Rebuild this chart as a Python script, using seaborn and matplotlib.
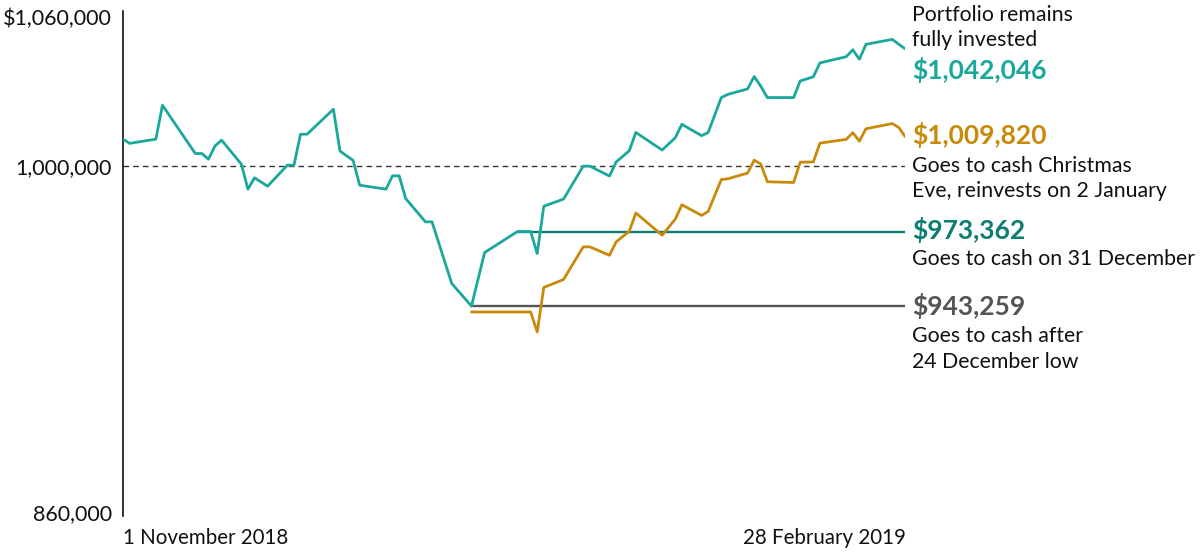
import matplotlib
matplotlib.use("Agg")
import matplotlib.pyplot as plt
import seaborn as sns
import pandas as pd

# ---------------- data (values in thousands of dollars) ----------------
invested_dates = [
    "2018-11-01", "2018-11-02", "2018-11-06", "2018-11-07", "2018-11-12", "2018-11-13",
    "2018-11-14", "2018-11-15", "2018-11-16", "2018-11-19", "2018-11-20", "2018-11-21",
    "2018-11-23", "2018-11-26", "2018-11-27", "2018-11-28", "2018-11-29",
    "2018-12-03", "2018-12-04", "2018-12-06", "2018-12-07", "2018-12-11", "2018-12-12",
    "2018-12-13", "2018-12-14", "2018-12-17", "2018-12-18", "2018-12-21", "2018-12-24",
    "2018-12-26", "2018-12-31",
    "2019-01-02", "2019-01-03", "2019-01-04", "2019-01-07", "2019-01-10", "2019-01-11",
    "2019-01-14", "2019-01-15", "2019-01-17", "2019-01-18", "2019-01-22", "2019-01-24",
    "2019-01-25", "2019-01-28", "2019-01-29", "2019-01-31",
    "2019-02-01", "2019-02-04", "2019-02-05", "2019-02-06", "2019-02-07", "2019-02-11",
    "2019-02-12", "2019-02-14", "2019-02-15", "2019-02-19", "2019-02-20", "2019-02-21",
    "2019-02-22", "2019-02-26", "2019-02-28",
]
invested_values = [
    1010.7, 1009.0, 1010.7, 1024.4, 1004.9, 1004.9, 1002.6, 1008.0, 1010.3, 1000.6,
    990.5, 995.1, 991.7, 1000.2, 1000.2, 1012.7, 1012.7,
    1022.8, 1005.9, 1002.1, 992.1, 990.5, 995.9, 995.9, 986.7, 977.3, 977.3, 952.4,
    943.3, 964.9, 973.4,
    973.4, 964.5, 983.6, 986.5, 999.8, 999.8, 995.8, 1001.5, 1006.0, 1013.4, 1006.3,
    1011.3, 1016.7, 1012.1, 1013.4, 1027.5,
    1028.8, 1031.0, 1036.0, 1032.1, 1027.5, 1027.5, 1034.2, 1035.9, 1041.5, 1044.0,
    1046.8, 1043.0, 1049.0, 1051.0, 1047.1,
]

xmas_dates = [
    "2018-12-24", "2019-01-02", "2019-01-03", "2019-01-04", "2019-01-07", "2019-01-10",
    "2019-01-11", "2019-01-14", "2019-01-15", "2019-01-17", "2019-01-18", "2019-01-22",
    "2019-01-24", "2019-01-25", "2019-01-28", "2019-01-29", "2019-01-31",
    "2019-02-01", "2019-02-04", "2019-02-05", "2019-02-06", "2019-02-07", "2019-02-11",
    "2019-02-12", "2019-02-14", "2019-02-15", "2019-02-19", "2019-02-20", "2019-02-21",
    "2019-02-22", "2019-02-26", "2019-02-27", "2019-02-28",
]
xmas_values = [
    940.9, 940.9, 932.8, 950.8, 954.0, 967.2, 967.2, 963.8, 969.2, 973.5, 980.9, 971.9,
    978.4, 984.2, 979.9, 981.5, 994.4,
    994.7, 997.0, 1002.2, 1000.7, 993.5, 993.2, 1001.4, 1001.5, 1009.1, 1010.6, 1013.3,
    1009.9, 1014.9, 1017.0, 1015.4, 1011.6,
]

dec31_dates = ["2018-12-31", "2019-02-28"]
dec31_values = [973.362, 973.362]

dec24_dates = ["2018-12-24", "2019-02-28"]
dec24_values = [943.259, 943.259]

y_ticks = [860000, 1000000, 1060000]
y_tick_labels = ["860,000", "1,000,000", "$1,060,000"]
x_tick_dates = ["2018-11-01", "2019-02-28"]
x_tick_labels = ["1 November 2018", "28 February 2019"]

# ---------------- styling ----------------
TEAL = "#1ba89c"
DARK_TEAL = "#0b7d72"
GOLD = "#c98a0b"
GREY = "#555555"

sns.set_theme(style="white")
plt.rcParams["font.family"] = ["Lato", "DejaVu Sans"]

def frame(dates, values):
    return pd.DataFrame({"date": pd.to_datetime(dates),
                         "value": [v * 1000 for v in values]})

fig = plt.figure(figsize=(12, 5.52), dpi=100)
ax = fig.add_axes([0.1025, 0.072, 0.652, 0.897])

ax.axhline(1000000, color="#333333", lw=1.0, ls=(0, (4, 3)), zorder=1)

sns.lineplot(data=frame(dec24_dates, dec24_values), x="date", y="value",
             color=GREY, lw=1.7, ax=ax, zorder=2)
sns.lineplot(data=frame(dec31_dates, dec31_values), x="date", y="value",
             color=DARK_TEAL, lw=1.7, ax=ax, zorder=2)
sns.lineplot(data=frame(xmas_dates, xmas_values), x="date", y="value",
             color=GOLD, lw=2.0, ax=ax, zorder=3)
sns.lineplot(data=frame(invested_dates, invested_values), x="date", y="value",
             color=TEAL, lw=2.0, ax=ax, zorder=4)

ax.set_xlim(pd.Timestamp("2018-11-01"), pd.Timestamp("2019-02-28"))
ax.set_ylim(860000, 1060000)
ax.set_xlabel("")
ax.set_ylabel("")

ax.set_yticks(y_ticks)
ax.set_yticklabels(y_tick_labels, fontsize=15.5, color="#111111")
ax.set_xticks(pd.to_datetime(x_tick_dates))
ax.set_xticklabels(x_tick_labels, fontsize=14.8, color="#111111")
xl = ax.get_xticklabels()
xl[0].set_ha("left")
xl[1].set_ha("right")
ax.tick_params(axis="y", length=0, pad=8)
ax.tick_params(axis="x", length=0, pad=11)

for s in ["top", "right", "bottom"]:
    ax.spines[s].set_visible(False)
ax.spines["left"].set_color("#111111")
ax.spines["left"].set_linewidth(1.2)
ax.spines["left"].set_bounds(858500, 1062500)

# ---------------- right-hand annotations ----------------
tx = 1.0085
trans = ax.get_yaxis_transform()
def label(y, s, color="#111111", bold=False, size=15.3):
    ax.text(tx, y * 1000, s, transform=trans, ha="left", va="center",
            color=color, fontsize=19 if bold else size,
            fontweight="bold" if bold else "normal", clip_on=False)

label(1060.8, "Portfolio remains")
label(1050.6, "fully invested")
label(1038.6, "$1,042,046", TEAL, bold=True)
label(1012.4, "$1,009,820", GOLD, bold=True)
label(1000.0, "Goes to cash Christmas")
label(989.6, "Eve, reinvests on 2 January")
label(973.9, "$973,362", DARK_TEAL, bold=True)
label(962.2, "Goes to cash on 31 December")
label(943.5, "$943,259", GREY, bold=True)
label(931.2, "Goes to cash after")
label(920.6, "24 December low")

fig.savefig("out.png", dpi=100, facecolor="white")
